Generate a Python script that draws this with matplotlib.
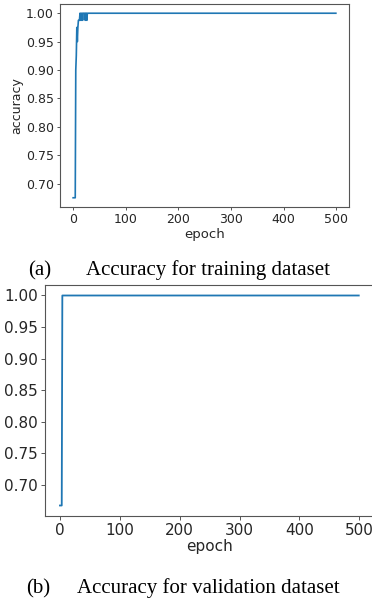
import matplotlib
matplotlib.use("Agg")
import matplotlib.pyplot as plt

# ---- data ----
train_head = [0.675, 0.675, 0.675, 0.675, 0.675, 0.9, 0.925, 0.975, 0.95, 0.975,
              0.9875, 0.9875, 0.9875, 1.0, 0.9875, 1.0, 0.9875, 1.0, 0.9875, 1.0,
              1.0, 1.0, 1.0, 0.9875, 1.0, 1.0, 0.9875, 1.0, 1.0, 1.0]
train_plateau = 1.0
val_head = [0.6667, 0.6667, 0.6667, 0.6667, 1.0]
val_plateau = 1.0
n_epochs = 500

train_acc = train_head + [train_plateau] * (n_epochs - len(train_head))
val_acc = val_head + [val_plateau] * (n_epochs - len(val_head))
epochs = list(range(n_epochs))

yticks = [0.70, 0.75, 0.80, 0.85, 0.90, 0.95, 1.00]
xticks = [0, 100, 200, 300, 400, 500]
caption_a = ("(a)", "Accuracy for training dataset")
caption_b = ("(b)", "Accuracy for validation dataset")

W, H = 372, 606
fig = plt.figure(figsize=(W / 100, H / 100), dpi=100)

def px_axes(l, t, r, b):
    return fig.add_axes([l / W, 1 - b / H, (r - l) / W, (b - t) / H])

line_color = "#1f77b4"
spine_color = "#555555"
text_color = "#262626"

def style(ax, fs, ticklen):
    for s in ax.spines.values():
        s.set_color(spine_color)
        s.set_linewidth(0.8)
    ax.tick_params(labelsize=fs, length=ticklen, width=0.7, colors=spine_color,
                   labelcolor=text_color, pad=2)
    ax.set_yticks(yticks)
    ax.set_yticklabels([f"{v:.2f}" for v in yticks])
    ax.set_xticks(xticks)

# top
ax1 = px_axes(60, 4, 349, 207)
ax1.plot(epochs, train_acc, color=line_color, lw=1.2)
style(ax1, 9, 2.5)
ax1.set_xlabel("epoch", fontsize=9.5, color=text_color, labelpad=1)
ax1.set_ylabel("accuracy", fontsize=9, color=text_color, labelpad=2)

# bottom
ax2 = px_axes(45, 285, 373.7, 516)
ax2.plot(epochs, val_acc, color=line_color, lw=1.3)
style(ax2, 11, 3)
ax2.set_xlabel("epoch", fontsize=11, color=text_color, labelpad=1)
ax2.set_ylabel("accuracy", fontsize=11, color=text_color, labelpad=4)

serif = ["Liberation Serif", "DejaVu Serif"]
fig.text(28 / W, 1 - 275 / H, caption_a[0], family=serif, fontsize=15,
         va="baseline", ha="left", color="black")
fig.text(86 / W, 1 - 275 / H, caption_a[1], family=serif, fontsize=15,
         va="baseline", ha="left", color="black")
fig.text(26 / W, 1 - 593 / H, caption_b[0], family=serif, fontsize=15,
         va="baseline", ha="left", color="black")
fig.text(77 / W, 1 - 593 / H, caption_b[1], family=serif, fontsize=15,
         va="baseline", ha="left", color="black")

fig.savefig("out.png", dpi=100)
